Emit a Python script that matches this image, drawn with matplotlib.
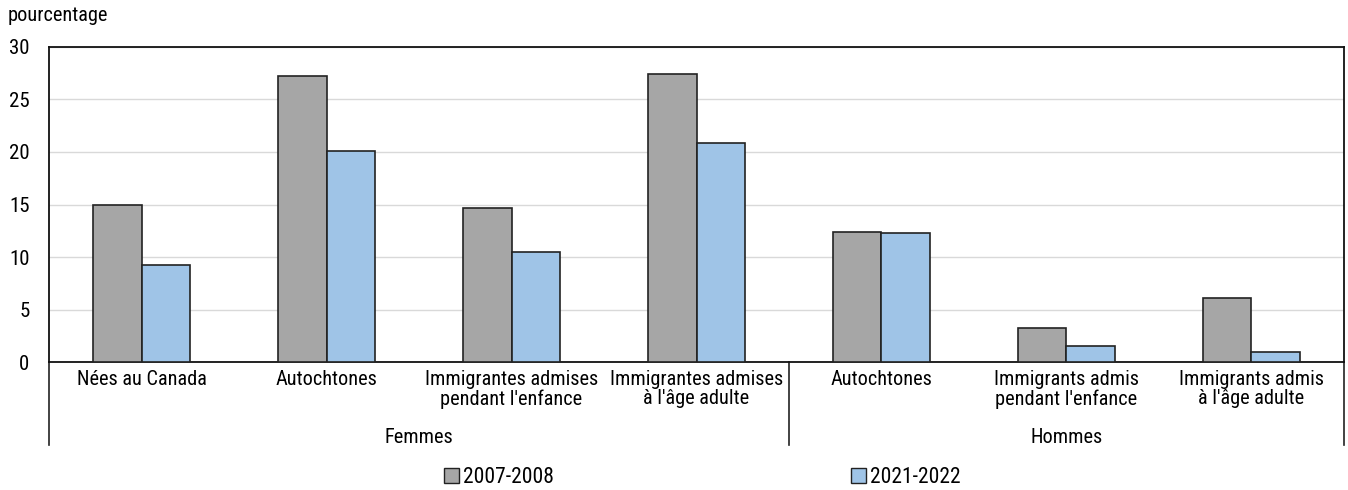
import matplotlib
matplotlib.use("Agg")
import matplotlib.pyplot as plt
from matplotlib.patches import Patch
import numpy as np

# Data
categories = ["Nées au Canada", "Autochtones", "Immigrantes admises\npendant l'enfance",
              "Immigrantes admises\nà l'âge adulte", "Autochtones",
              "Immigrants admis\npendant l'enfance", "Immigrants admis\nà l'âge adulte"]
groups = ["Femmes", "Hommes"]
group_sizes = [4, 3]
series_names = ["2007-2008", "2021-2022"]
vals_2007 = [15.0, 27.2, 14.7, 27.4, 12.4, 3.2, 6.1]
vals_2021 = [9.2, 20.1, 10.5, 20.9, 12.3, 1.5, 1.0]

plt.rcParams['font.family'] = ['Roboto Condensed', 'Archivo Narrow', 'Liberation Sans', 'DejaVu Sans']
plt.rcParams['font.size'] = 14.6

grey = '#a6a6a6'
blue = '#9fc4e7'

fig = plt.figure(figsize=(13.48, 4.90), dpi=100)
ax = fig.add_axes([0.0364, 0.2612, 0.9606, 0.6429])

x = np.arange(len(categories))
w = 0.262
ax.bar(x - w / 2, vals_2007, w, color=grey, edgecolor='#222222', linewidth=1.2, zorder=3)
ax.bar(x + w / 2, vals_2021, w, color=blue, edgecolor='#222222', linewidth=1.2, zorder=3)

ax.set_xlim(-0.5, len(categories) - 0.5)
ax.set_ylim(0, 30)
ax.set_yticks(range(0, 31, 5))
ax.yaxis.grid(True, color='#d9d9d9', linewidth=1, zorder=0)
ax.set_axisbelow(True)
ax.tick_params(axis='y', length=0, pad=14, labelsize=15)
ax.tick_params(axis='x', length=0, pad=6)
ax.set_xticks(x)
ax.set_xticklabels(categories, linespacing=1.0)
for s in ax.spines.values():
    s.set_linewidth(1.3)
    s.set_color('#111111')

# group separators and labels
trans = ax.get_xaxis_transform()
edges = np.concatenate([[0], np.cumsum(group_sizes)]) - 0.5
for e in edges:
    ax.plot([e, e], [0, -0.265], transform=trans, color='#222222', linewidth=1.2, clip_on=False)
for i, g in enumerate(groups):
    mid = (edges[i] + edges[i + 1]) / 2
    ax.text(mid, -0.24, g, transform=trans, ha='center', va='center')

fig.text(0.006, 0.968, "pourcentage", ha='left', va='center')

handles = [Patch(facecolor=grey, edgecolor='#222222', linewidth=1),
           Patch(facecolor=blue, edgecolor='#222222', linewidth=1)]
fig.legend(handles, series_names, loc='center', bbox_to_anchor=(0.521, 0.025), ncol=2,
           frameon=False, handlelength=0.7, handleheight=0.7, handletextpad=0.2,
           columnspacing=13.8, fontsize=15.5)

fig.savefig("out.png", dpi=100)
